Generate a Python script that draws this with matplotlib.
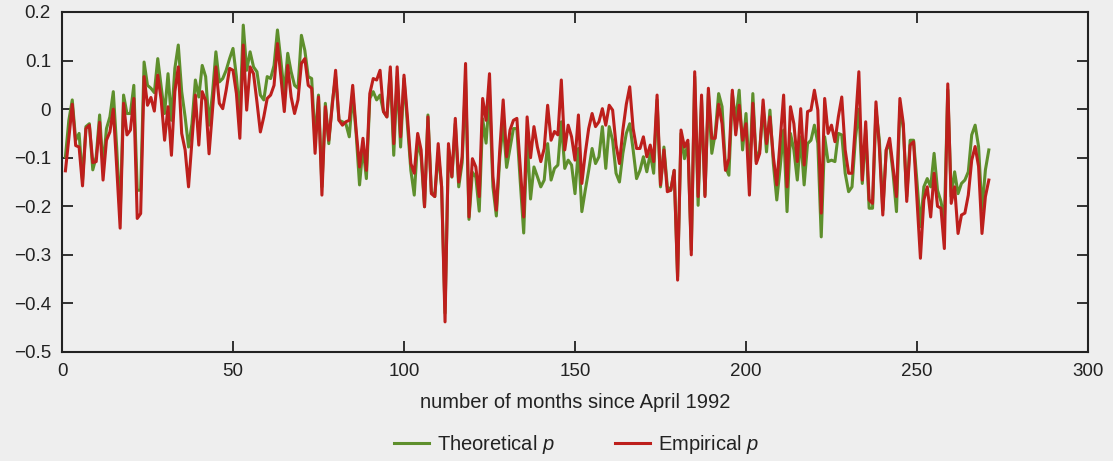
import matplotlib
matplotlib.use("Agg")
import matplotlib.pyplot as plt
import numpy as np

months = list(range(1, 272))

empirical_p = [
    -0.127, -0.06, 0.01, -0.075, -0.078, -0.158, -0.04, -0.033, -0.11, -0.108,
    -0.027, -0.146, -0.064, -0.047, 0.0, -0.12, -0.245, 0.012, -0.053, -0.043,
    0.022, -0.225, -0.215, 0.067, 0.008, 0.024, -0.004, 0.07, 0.019, -0.064,
    0.005, -0.095, 0.036, 0.087, -0.05, -0.084, -0.16, -0.064, 0.029, -0.074,
    0.036, 0.018, -0.092, -0.002, 0.087, 0.012, 0.001, 0.039, 0.084, 0.080,
    0.032, -0.060, 0.132, -0.002, 0.087, 0.073, 0.015, -0.047, -0.016, 0.022,
    0.029, 0.049, 0.135, 0.067, -0.005, 0.09, 0.025, -0.009, 0.019, 0.094,
    0.104, 0.049, 0.043, -0.091, 0.025, -0.177, 0.005, -0.064, 0.005, 0.08,
    -0.023, -0.033, -0.026, -0.023, 0.049, -0.043, -0.119, -0.06, -0.126, 0.032,
    0.063, 0.06, 0.08, -0.005, -0.016, 0.087, -0.071, 0.087, -0.057, 0.07,
    -0.016, -0.112, -0.132, -0.05, -0.084, -0.201, -0.016, -0.174, -0.18, -0.071,
    -0.16, -0.438, -0.071, -0.139, -0.019, -0.15, -0.098, 0.094, -0.222, -0.102,
    -0.119, -0.18, 0.022, -0.023, 0.073, -0.139, -0.208, -0.084, 0.019, -0.098,
    -0.043, -0.023, -0.019, -0.119, -0.222, -0.016, -0.1, -0.036, -0.078, -0.108,
    -0.081, 0.008, -0.064, -0.046, -0.053, 0.06, -0.084, -0.033, -0.057, -0.105,
    -0.012, -0.153, -0.091, -0.04, -0.009, -0.036, -0.026, 0.001, -0.033, 0.008,
    -0.002, -0.074, -0.112, -0.043, 0.01, 0.046, -0.04, -0.081, -0.081, -0.057,
    -0.098, -0.074, -0.108, 0.029, -0.156, -0.084, -0.17, -0.167, -0.126, -0.352,
    -0.043, -0.078, -0.064, -0.3, 0.077, -0.18, 0.029, -0.18, 0.043, -0.06,
    -0.06, 0.01, -0.03, -0.126, -0.102, 0.039, -0.053, 0.008, -0.064, -0.03,
    -0.177, 0.012, -0.112, -0.091, 0.019, -0.071, -0.016, -0.098, -0.156, -0.064,
    0.029, -0.16, 0.005, -0.03, -0.108, 0.001, -0.115, -0.005, -0.002, 0.039,
    -0.002, -0.214, 0.022, -0.05, -0.033, -0.067, -0.016, 0.025, -0.084, -0.132,
    -0.132, -0.03, 0.077, -0.146, -0.026, -0.187, -0.194, 0.015, -0.08, -0.218,
    -0.084, -0.06, -0.12, -0.18, 0.022, -0.03, -0.19, -0.074, -0.067, -0.187,
    -0.307, -0.187, -0.16, -0.222, -0.132, -0.2, -0.204, -0.287, 0.052, -0.194,
    -0.16, -0.256, -0.218, -0.214, -0.177, -0.105, -0.077, -0.118, -0.256, -0.18,
    -0.146,
]

theoretical_p = [
    -0.098, -0.023, 0.019, -0.064, -0.05, -0.146, -0.036, -0.03, -0.125, -0.098,
    -0.012, -0.12, -0.04, -0.016, 0.036, -0.08, -0.22, 0.029, -0.009, -0.009,
    0.049, -0.167, -0.167, 0.097, 0.049, 0.043, 0.034, 0.104, 0.046, -0.009,
    0.073, -0.023, 0.084, 0.132, 0.036, -0.016, -0.078, -0.03, 0.06, 0.025,
    0.09, 0.067, -0.033, 0.032, 0.118, 0.056, 0.063, 0.08, 0.104, 0.125,
    0.067, -0.016, 0.173, 0.08, 0.118, 0.087, 0.077, 0.029, 0.019, 0.067,
    0.063, 0.09, 0.163, 0.1, 0.032, 0.115, 0.077, 0.049, 0.043, 0.152,
    0.121, 0.067, 0.063, -0.064, 0.029, -0.16, 0.012, -0.071, 0.012, 0.067,
    -0.023, -0.026, -0.03, -0.057, 0.032, -0.05, -0.156, -0.078, -0.143, 0.022,
    0.036, 0.019, 0.029, -0.005, -0.016, 0.077, -0.095, 0.067, -0.078, 0.063,
    -0.03, -0.126, -0.177, -0.064, -0.098, -0.201, -0.012, -0.17, -0.18, -0.09,
    -0.16, -0.42, -0.08, -0.14, -0.03, -0.16, -0.11, 0.06, -0.227, -0.13,
    -0.14, -0.21, -0.02, -0.07, 0.03, -0.16, -0.22, -0.1, -0.03, -0.12,
    -0.08, -0.04, -0.04, -0.15, -0.255, -0.06, -0.185, -0.119, -0.139, -0.16,
    -0.146, -0.071, -0.146, -0.122, -0.115, -0.026, -0.122, -0.105, -0.115, -0.174,
    -0.081, -0.211, -0.167, -0.126, -0.081, -0.112, -0.098, -0.036, -0.122, -0.036,
    -0.064, -0.132, -0.15, -0.091, -0.05, -0.03, -0.084, -0.143, -0.126, -0.098,
    -0.129, -0.091, -0.132, 0.019, -0.16, -0.078, -0.16, -0.167, -0.126, -0.345,
    -0.05, -0.102, -0.071, -0.29, 0.067, -0.198, 0.019, -0.177, 0.032, -0.091,
    -0.05, 0.032, 0.005, -0.119, -0.136, 0.032, -0.023, 0.039, -0.084, -0.009,
    -0.139, 0.032, -0.108, -0.084, 0.005, -0.088, -0.002, -0.112, -0.187, -0.119,
    -0.043, -0.211, -0.05, -0.084, -0.146, -0.057, -0.156, -0.071, -0.064, -0.033,
    -0.07, -0.263, -0.057, -0.108, -0.105, -0.108, -0.05, -0.053, -0.132, -0.17,
    -0.16, -0.06, 0.0, -0.153, -0.043, -0.204, -0.204, -0.002, -0.064, -0.208,
    -0.084, -0.071, -0.132, -0.211, 0.005, -0.04, -0.18, -0.064, -0.064, -0.15,
    -0.242, -0.16, -0.143, -0.16, -0.091, -0.167, -0.19, -0.228, 0.04, -0.18,
    -0.129, -0.174, -0.153, -0.146, -0.129, -0.053, -0.033, -0.077, -0.208, -0.125,
    -0.084,
]

x_ticks = [0, 50, 100, 150, 200, 250, 300]
y_ticks = [-0.5, -0.4, -0.3, -0.2, -0.1, 0, 0.1, 0.2]
y_tick_labels = ["\u22120.5", "\u22120.4", "\u22120.3", "\u22120.2", "\u22120.1", "0", "0.1", "0.2"]

plt.rcParams['font.family'] = ['Liberation Sans', 'DejaVu Sans']
plt.rcParams['mathtext.fontset'] = 'custom'
plt.rcParams['mathtext.it'] = 'Liberation Sans:italic'

bg = '#eeeeee'
fig = plt.figure(figsize=(11.13, 4.61), dpi=100, facecolor=bg)
ax = fig.add_axes([62 / 1113, 1 - 352 / 461, (1088 - 62) / 1113, (352 - 12) / 461])
ax.set_facecolor(bg)

ax.plot(months, theoretical_p, color='#5e8f2c', lw=2.2, label='Theoretical $p$')
ax.plot(months, empirical_p, color='#bd1f1c', lw=2.2, label='Empirical $p$')

ax.set_xlim(0, 300)
ax.set_ylim(-0.5, 0.2)
ax.set_xticks(x_ticks)
ax.set_yticks(y_ticks)
ax.set_yticklabels(y_tick_labels)
ax.tick_params(direction='in', length=8, width=1.3, top=True, right=True,
               labelsize=13.5, colors='#222222', pad=8)
for s in ax.spines.values():
    s.set_linewidth(1.5)
    s.set_color('#222222')

ax.set_xlabel('number of months since April 1992', fontsize=14.5, color='#222222', labelpad=9)

fig.legend(loc='lower center', bbox_to_anchor=(0.518, -0.028), ncol=2, frameon=False,
           fontsize=14.5, handlelength=1.75, columnspacing=3.0, handletextpad=0.4,
           labelcolor='#222222')

fig.savefig('out.png', dpi=100, facecolor=bg)
